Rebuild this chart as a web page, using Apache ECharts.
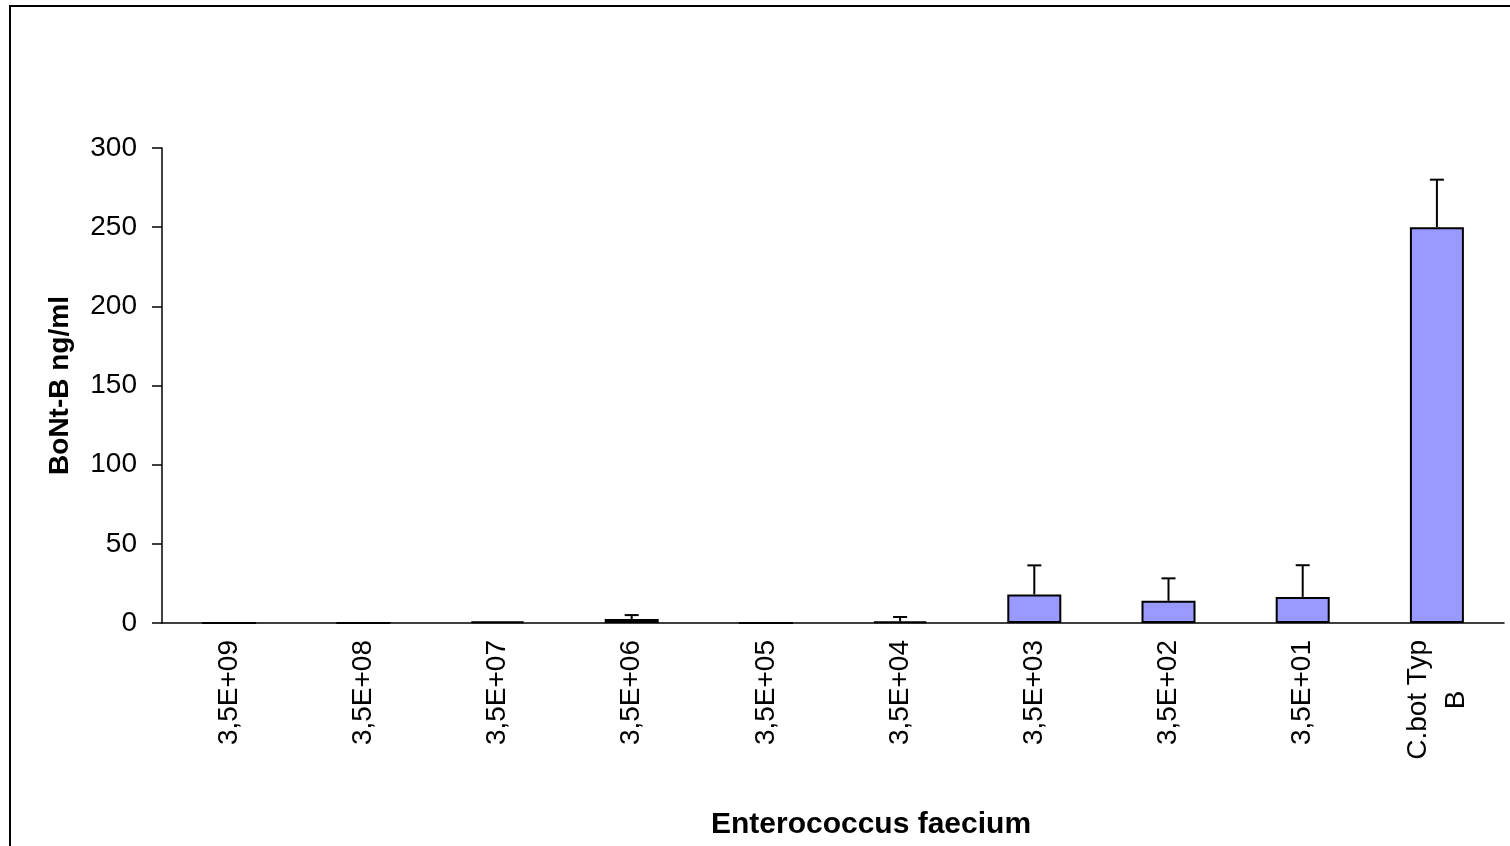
<!DOCTYPE html>
<html>
<head>
<meta charset="utf-8">
<script src="https://cdn.jsdelivr.net/npm/echarts@6/dist/echarts.min.js"></script>
<style>
  html, body { margin: 0; padding: 0; background: #fff; }
  #chart { width: 1510px; height: 846px; }
</style>
</head>
<body>
<div id="chart"></div>
<script>
// data
var categories = ['3,5E+09', '3,5E+08', '3,5E+07', '3,5E+06', '3,5E+05', '3,5E+04', '3,5E+03', '3,5E+02', '3,5E+01', 'C.bot Typ\nB']
var means = [0, 0, 1, 2.5, 0, 1, 18, 14, 16.5, 250]
var errors = [0, 0, 0, 2.5, 0, 2.8, 18.4, 14.2, 20, 30]
var yTicks = [0, 50, 100, 150, 200, 250, 300]

var chart = echarts.init(document.getElementById('chart'))

var errData = means.map(function (m, i) {
  return [i, m, m + errors[i]]
})

chart.setOption({
  animation: false,
  textStyle: { fontFamily: 'Liberation Sans, Arial, sans-serif' },
  graphic: [{
    type: 'rect',
    shape: { x: 10, y: 6, width: 1520, height: 860 },
    style: { fill: 'none', stroke: '#000', lineWidth: 2 }
  }],
  grid: { left: 162, right: 6, top: 148, bottom: 223 },
  xAxis: {
    type: 'category',
    data: categories,
    name: 'Enterococcus faecium',
    nameLocation: 'middle',
    nameGap: 187,
    nameTextStyle: { fontSize: 30, fontWeight: 'bold', color: '#000', padding: [0, 0, 0, 76] },
    axisLine: { lineStyle: { color: '#000', width: 1.5 } },
    axisTick: { length: 9, lineStyle: { color: '#000', width: 1.5 } },
    axisLabel: {
      rotate: 90,
      interval: 0,
      margin: 17,
      fontSize: 28,
      color: '#000',
      formatter: function (v) {
        return v.split('\n').map(function (s) { return '{c|' + s + '}' }).join('\n')
      },
      rich: { c: { align: 'center', fontSize: 28, color: '#000', lineHeight: 38 } }
    }
  },
  yAxis: {
    type: 'value',
    min: yTicks[0],
    max: yTicks[yTicks.length - 1],
    interval: 50,
    name: 'BoNt-B ng/ml',
    nameLocation: 'middle',
    nameGap: 88,
    nameTextStyle: { fontSize: 28, fontWeight: 'bold', color: '#000' },
    splitLine: { show: false },
    axisLine: { show: true, lineStyle: { color: '#000', width: 1.5 } },
    axisTick: { show: true, length: 10, lineStyle: { color: '#000', width: 1.5 } },
    axisLabel: { fontSize: 28, color: '#000', margin: 25 }
  },
  series: [
    {
      type: 'bar',
      data: means,
      barWidth: 54,
      itemStyle: { color: '#9999ff', borderColor: '#000', borderWidth: 2 }
    },
    {
      type: 'custom',
      data: errData,
      z: 5,
      renderItem: function (params, api) {
        var i = api.value(0)
        if (api.value(2) <= api.value(1)) return null
        var lo = api.coord([i, api.value(1)])
        var hi = api.coord([i, api.value(2)])
        var cap = 7
        var st = { stroke: '#000', lineWidth: 2 }
        return {
          type: 'group',
          children: [
            { type: 'line', shape: { x1: lo[0], y1: lo[1], x2: hi[0], y2: hi[1] }, style: st },
            { type: 'line', shape: { x1: hi[0] - cap, y1: hi[1], x2: hi[0] + cap, y2: hi[1] }, style: st }
          ]
        }
      }
    }
  ]
})
</script>
</body>
</html>
